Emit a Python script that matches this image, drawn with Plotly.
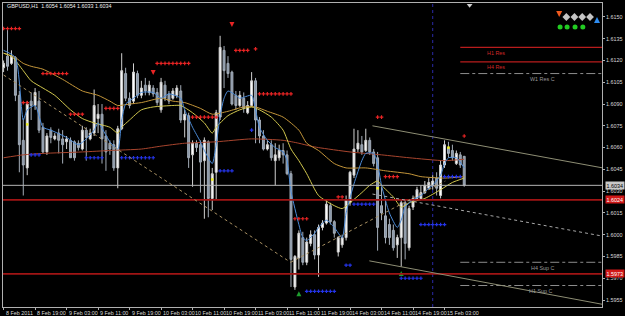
import plotly.graph_objects as go

# ---------------- data ----------------
symbol_title = "GBPUSD,H1  1.6054 1.6054 1.6033 1.6034"

tick_bars = [0, 8, 16, 24, 32, 40, 48, 56, 64, 72, 80, 88, 96, 104, 112]
tick_labels = ["8 Feb 2011", "8 Feb 19:00", "9 Feb 03:00", "9 Feb 11:00", "9 Feb 19:00",
               "10 Feb 03:00", "10 Feb 11:00", "10 Feb 19:00", "11 Feb 03:00", "11 Feb 11:00",
               "11 Feb 19:00", "14 Feb 03:00", "14 Feb 11:00", "14 Feb 19:00", "15 Feb 03:00"]

price_ticks = [1.5955, 1.5970, 1.5985, 1.6000, 1.6015, 1.6030, 1.6045, 1.6060,
               1.6075, 1.6090, 1.6105, 1.6120, 1.6135, 1.6150]

opens = [1.6115, 1.6123, 1.6118, 1.6122, 1.6096, 1.6065, 1.6046, 1.6092, 1.6089, 1.6092,
         1.6074, 1.6057, 1.6072, 1.6066, 1.6070, 1.6066, 1.6064, 1.6065, 1.6064, 1.6063,
         1.6059, 1.6072, 1.6066, 1.6070, 1.6080, 1.6083, 1.6068, 1.6063, 1.6062, 1.6046,
         1.6073, 1.6111, 1.6094, 1.6092, 1.6111, 1.6096, 1.6103, 1.6098, 1.6101, 1.6098,
         1.6086, 1.6103, 1.6097, 1.6094, 1.6096, 1.6099, 1.6079, 1.6082, 1.6055, 1.6063,
         1.6062, 1.6051, 1.6064, 1.6025, 1.6043, 1.6081, 1.6127, 1.6118, 1.6112, 1.6096,
         1.6089, 1.6094, 1.6084, 1.6089, 1.6106, 1.6079, 1.6068, 1.6059, 1.6062, 1.6051,
         1.6053, 1.6058, 1.6055, 1.6042, 1.5964, 1.5984, 1.5998, 1.5981, 1.5994, 1.6000,
         1.5986, 1.6005, 1.6008, 1.6020, 1.6009, 1.5988, 1.5993, 1.5998, 1.6022, 1.6041,
         1.6059, 1.6062, 1.6058, 1.6065, 1.6057, 1.6053, 1.6020, 1.6013, 1.6007, 1.6003,
         1.5993, 1.5998, 1.6022, 1.5991, 1.6019, 1.6025, 1.6025, 1.6029, 1.6032, 1.6034,
         1.6039, 1.6027, 1.6048, 1.6060, 1.6058, 1.6049, 1.6055, 1.6054]
highs = [1.6120, 1.6142, 1.6127, 1.6123, 1.6099, 1.6080, 1.6092, 1.6098, 1.6101, 1.6099,
         1.6077, 1.6070, 1.6074, 1.6070, 1.6073, 1.6072, 1.6068, 1.6067, 1.6065, 1.6065,
         1.6075, 1.6074, 1.6073, 1.6100, 1.6090, 1.6090, 1.6072, 1.6065, 1.6065, 1.6075,
         1.6125, 1.6115, 1.6098, 1.6118, 1.6113, 1.6106, 1.6108, 1.6106, 1.6103, 1.6101,
         1.6108, 1.6106, 1.6099, 1.6101, 1.6103, 1.6103, 1.6086, 1.6084, 1.6065, 1.6065,
         1.6065, 1.6067, 1.6065, 1.6046, 1.6086, 1.6137, 1.6130, 1.6123, 1.6113, 1.6099,
         1.6099, 1.6098, 1.6092, 1.6112, 1.6108, 1.6081, 1.6072, 1.6065, 1.6065, 1.6063,
         1.6062, 1.6063, 1.6058, 1.6044, 1.5986, 1.6003, 1.6002, 1.5998, 1.6003, 1.6003,
         1.6007, 1.6010, 1.6024, 1.6022, 1.6010, 1.5999, 1.6000, 1.6027, 1.6044, 1.6073,
         1.6072, 1.6068, 1.6073, 1.6067, 1.6059, 1.6057, 1.6033, 1.6024, 1.6011, 1.6007,
         1.6000, 1.6024, 1.6024, 1.6020, 1.6027, 1.6033, 1.6034, 1.6037, 1.6039, 1.6041,
         1.6043, 1.6051, 1.6065, 1.6064, 1.6062, 1.6058, 1.6057, 1.6054]
lows = [1.6112, 1.6113, 1.6117, 1.6092, 1.6043, 1.6027, 1.6041, 1.6079, 1.6086, 1.6070,
        1.6056, 1.6055, 1.6063, 1.6065, 1.6056, 1.6049, 1.6059, 1.6053, 1.6051, 1.6058,
        1.6058, 1.6051, 1.6065, 1.6068, 1.6070, 1.6049, 1.6044, 1.6055, 1.6044, 1.6032,
        1.6072, 1.6092, 1.6087, 1.6090, 1.6094, 1.6094, 1.6096, 1.6096, 1.6095, 1.6089,
        1.6084, 1.6092, 1.6090, 1.6093, 1.6094, 1.6077, 1.6067, 1.6046, 1.6033, 1.6057,
        1.6029, 1.6011, 1.6012, 1.6017, 1.6024, 1.6079, 1.6101, 1.6108, 1.6089, 1.6086,
        1.6088, 1.6084, 1.6083, 1.6088, 1.6063, 1.6063, 1.6058, 1.6058, 1.6051, 1.6034,
        1.6051, 1.6049, 1.6041, 1.5964, 1.5962, 1.5976, 1.5979, 1.5979, 1.5992, 1.5983,
        1.5971, 1.6003, 1.6007, 1.6007, 1.5998, 1.5985, 1.5991, 1.5996, 1.6020, 1.6039,
        1.6057, 1.6055, 1.6057, 1.6055, 1.6047, 1.5989, 1.6010, 1.5994, 1.5993, 1.5989,
        1.5984, 1.5978, 1.5983, 1.5989, 1.6017, 1.6024, 1.6024, 1.6028, 1.6031, 1.6031,
        1.6027, 1.6025, 1.6046, 1.6053, 1.6051, 1.6048, 1.6046, 1.6033]
closes = [1.6118, 1.6116, 1.6123, 1.6096, 1.6062, 1.6048, 1.6090, 1.6089, 1.6098, 1.6072,
          1.6057, 1.6068, 1.6067, 1.6068, 1.6065, 1.6062, 1.6066, 1.6053, 1.6053, 1.6060,
          1.6072, 1.6067, 1.6070, 1.6089, 1.6083, 1.6066, 1.6057, 1.6059, 1.6046, 1.6073,
          1.6113, 1.6094, 1.6089, 1.6112, 1.6096, 1.6101, 1.6099, 1.6103, 1.6097, 1.6091,
          1.6105, 1.6094, 1.6092, 1.6099, 1.6101, 1.6079, 1.6083, 1.6053, 1.6063, 1.6060,
          1.6050, 1.6065, 1.6025, 1.6042, 1.6084, 1.6129, 1.6113, 1.6111, 1.6090, 1.6089,
          1.6096, 1.6087, 1.6089, 1.6106, 1.6079, 1.6068, 1.6059, 1.6062, 1.6053, 1.6055,
          1.6058, 1.6055, 1.6042, 1.5983, 1.5985, 1.6001, 1.5981, 1.5995, 1.6000, 1.5986,
          1.6005, 1.6008, 1.6021, 1.6009, 1.6001, 1.5998, 1.5998, 1.6024, 1.6043, 1.6059,
          1.6063, 1.6057, 1.6065, 1.6057, 1.6049, 1.6005, 1.6015, 1.5998, 1.5998, 1.5991,
          1.5998, 1.6022, 1.5994, 1.6018, 1.6025, 1.6031, 1.6029, 1.6034, 1.6036, 1.6037,
          1.6032, 1.6048, 1.6062, 1.6056, 1.6053, 1.6056, 1.6048, 1.6034]

# moving averages (bar index, price)
fast_ma_bars = [0, 3, 5, 6, 8, 10, 12, 16, 19, 21, 23, 24, 27, 29, 30, 31, 33, 35, 38, 40,
                42, 45, 46, 48, 50, 51, 53, 54, 55, 56, 57, 59, 60, 63, 64, 65, 67, 69, 71, 72,
                73, 75, 76, 77, 79, 80, 82, 84, 86, 87, 89, 91, 92, 94, 95, 96, 98, 100, 101, 102,
                104, 106, 108, 109, 111, 112, 113, 115, 117]
fast_ma = [1.6127, 1.6122, 1.6079, 1.6086, 1.6089, 1.6074, 1.6072, 1.6067, 1.6062, 1.6066,
           1.6072, 1.6077, 1.6064, 1.6059, 1.6079, 1.6090, 1.6094, 1.6098, 1.6098, 1.6094,
           1.6097, 1.6094, 1.6086, 1.6074, 1.6064, 1.6058, 1.6049, 1.6062, 1.6082, 1.6094,
           1.6099, 1.6096, 1.6094, 1.6096, 1.6086, 1.6074, 1.6065, 1.6060, 1.6057, 1.6051,
           1.6030, 1.6007, 1.5998, 1.5996, 1.6001, 1.6005, 1.6010, 1.6005, 1.5998, 1.6015,
           1.6035, 1.6051, 1.6056, 1.6056, 1.6049, 1.6034, 1.6015, 1.6005, 1.6010, 1.6019,
           1.6024, 1.6027, 1.6032, 1.6034, 1.6041, 1.6049, 1.6053, 1.6053, 1.6046]

mid_ma_bars = [0, 2, 5, 7, 10, 13, 17, 20, 23, 27, 29, 30, 32, 35, 38, 43, 45, 48, 51, 53,
               54, 57, 60, 63, 65, 68, 71, 73, 75, 77, 80, 84, 86, 88, 91, 93, 95, 96, 99, 101,
               103, 107, 111, 114, 117]
mid_ma = [1.6125, 1.6123, 1.6113, 1.6106, 1.6101, 1.6096, 1.6086, 1.6080, 1.6077, 1.6074,
          1.6070, 1.6074, 1.6079, 1.6086, 1.6088, 1.6089, 1.6089, 1.6084, 1.6077, 1.6070,
          1.6074, 1.6082, 1.6086, 1.6088, 1.6086, 1.6081, 1.6072, 1.6059, 1.6051, 1.6042,
          1.6027, 1.6020, 1.6018, 1.6022, 1.6029, 1.6034, 1.6037, 1.6034, 1.6026, 1.6019,
          1.6022, 1.6025, 1.6031, 1.6036, 1.6039]

slow_ma_bars = [0, 3, 5, 7, 10, 15, 20, 24, 27, 29, 32, 35, 40, 43, 46, 50, 53, 57, 61, 64,
                67, 71, 75, 77, 80, 84, 87, 92, 97, 103, 106, 112, 117]
slow_ma = [1.6125, 1.6122, 1.6118, 1.6116, 1.6114, 1.6107, 1.6099, 1.6096, 1.6092, 1.6089,
           1.6090, 1.6091, 1.6094, 1.6092, 1.6091, 1.6087, 1.6083, 1.6085, 1.6088, 1.6088,
           1.6085, 1.6081, 1.6072, 1.6063, 1.6058, 1.6049, 1.6046, 1.6046, 1.6044, 1.6042,
           1.6040, 1.6039, 1.6040]

long_ma_bars = [0, 5, 10, 20, 27, 35, 40, 46, 54, 63, 71, 75, 78, 80, 88, 96, 103, 112, 117]
long_ma = [1.6053, 1.6055, 1.6056, 1.6057, 1.6058, 1.6059, 1.6061, 1.6063, 1.6064, 1.6066,
           1.6065, 1.6063, 1.6061, 1.6060, 1.6057, 1.6055, 1.6053, 1.6051, 1.6052]

# rows of resistance (red) and support (blue) dots: (first bar, last bar, price)
red_rows = [(0, 4, 1.6142), (10, 16, 1.6111), (39, 47, 1.6118), (17, 20, 1.6083),
            (26, 29, 1.6087), (5, 6, 1.6091), (59, 62, 1.6127), (64, 64, 1.6128),
            (65, 73, 1.6097), (48, 54, 1.6081), (95, 96, 1.6081), (85, 86, 1.6026),
            (97, 100, 1.6040), (74, 77, 1.6011), (117, 117, 1.6068)]
blue_rows = [(7, 9, 1.6055), (21, 25, 1.6053), (30, 38, 1.6053), (63, 63, 1.6072),
             (55, 58, 1.6044), (87, 88, 1.5979), (89, 94, 1.6021), (77, 84, 1.5961),
             (106, 112, 1.6007), (101, 106, 1.5970), (112, 116, 1.6040)]

fractal_up_bars = [38, 58]
fractal_up_prices = [1.6110, 1.6143]
fractal_dn_bars = [75, 101]
fractal_dn_prices = [1.5961, 1.5975]

signal_bars = [6, 53, 95, 113]
signal_prices = [1.6076, 1.6038, 1.6032, 1.6060]

bid_price = 1.6034
red_levels = [1.6024, 1.5973]
sep_bar = 109

level_names = ["H1 Res", "H4 Res", "W1 Res C", "H4 Sup C", "H1 Sup C"]
level_prices = [1.6129, 1.6119, 1.6111, 1.5981, 1.5965]
level_label_bars = [125, 125, 137, 137, 136.5]
level_is_res = [True, True, False, False, False]
level_start = 116

# trend lines: (bar0, price0, bar1, price1)
channel_lines = [(93.7, 1.6075, 152.2, 1.6046), (92.9, 1.5982, 152.2, 1.5952)]
channel_mid = (93.7, 1.6028, 152.2, 1.5999)
dotted_trend = [(0, 1.6110, 72.9, 1.5981), (72.9, 1.5981, 112.2, 1.6037)]

# ---------------- figure ----------------
FONT = "Liberation Sans"
FS = 5.4
bars = list(range(len(opens)))
X0, X1 = -0.15, 152.0
Y0, Y1 = 1.59502, 1.61596

fig = go.Figure()

fig.add_trace(go.Candlestick(
    x=bars, open=opens, high=highs, low=lows, close=closes,
    increasing=dict(fillcolor="#FFFFFF", line=dict(color="#D0D0D0", width=1)),
    decreasing=dict(fillcolor="#8896A8", line=dict(color="#A3ACB7", width=1)),
    whiskerwidth=0, showlegend=False, hoverinfo="skip"))

for bx, vals, col in [(long_ma_bars, long_ma, "#A8452E"),
                      (slow_ma_bars, slow_ma, "#C4963A"),
                      (mid_ma_bars, mid_ma, "#D2C84E"),
                      (fast_ma_bars, fast_ma, "#4D8CD8")]:
    fig.add_trace(go.Scatter(x=bx, y=vals, mode="lines",
                             line=dict(color=col, width=1, shape="spline", smoothing=0.6),
                             showlegend=False, hoverinfo="skip"))


def rows_to_xy(rows):
    xs, ys = [], []
    for a, b, p in rows:
        for k in range(a, b + 1):
            xs.append(k)
            ys.append(p)
    return xs, ys


rx, ry = rows_to_xy(red_rows)
bx_, by_ = rows_to_xy(blue_rows)
fig.add_trace(go.Scatter(x=rx, y=ry, mode="markers",
                         marker=dict(symbol="cross", size=3, color="#E82424"),
                         showlegend=False, hoverinfo="skip"))
fig.add_trace(go.Scatter(x=bx_, y=by_, mode="markers",
                         marker=dict(symbol="cross", size=3, color="#2434E8"),
                         showlegend=False, hoverinfo="skip"))
fig.add_trace(go.Scatter(x=fractal_up_bars, y=fractal_up_prices, mode="markers",
                         marker=dict(symbol="arrow-down", size=5, color="#E82424"),
                         showlegend=False, hoverinfo="skip"))
fig.add_trace(go.Scatter(x=fractal_dn_bars, y=fractal_dn_prices, mode="markers",
                         marker=dict(symbol="arrow-up", size=5, color="#1E9E2E"),
                         showlegend=False, hoverinfo="skip"))
fig.add_trace(go.Scatter(x=signal_bars, y=signal_prices, mode="markers",
                         marker=dict(symbol="square", size=2.5, color="#F0F020"),
                         showlegend=False, hoverinfo="skip"))

shapes = []
# day separator
shapes.append(dict(type="line", xref="x", yref="paper", x0=sep_bar, x1=sep_bar, y0=0, y1=1,
                   line=dict(color="#2A2AA8", width=1, dash="dot"), layer="below"))
# full-width price lines
shapes.append(dict(type="line", xref="paper", yref="y", x0=0, x1=1, y0=bid_price, y1=bid_price,
                   line=dict(color="#B4B4B4", width=1)))
for p in red_levels:
    shapes.append(dict(type="line", xref="paper", yref="y", x0=0, x1=1, y0=p, y1=p,
                       line=dict(color="#A01414", width=1.6)))
# pivot levels
for name, p, res in zip(level_names, level_prices, level_is_res):
    shapes.append(dict(type="line", xref="x", yref="y", x0=level_start, x1=X1, y0=p, y1=p,
                       line=dict(color="#B81C1C", width=1.2) if res else
                       dict(color="#8C8C8C", width=1, dash="dashdot")))
# trend lines
for a, pa, b, pb in channel_lines:
    shapes.append(dict(type="line", xref="x", yref="y", x0=a, y0=pa, x1=b, y1=pb,
                       line=dict(color="#8E8E74", width=1)))
a, pa, b, pb = channel_mid
shapes.append(dict(type="line", xref="x", yref="y", x0=a, y0=pa, x1=b, y1=pb,
                   line=dict(color="#A8A8A8", width=1, dash="dot")))
for a, pa, b, pb in dotted_trend:
    shapes.append(dict(type="line", xref="x", yref="y", x0=a, y0=pa, x1=b, y1=pb,
                       line=dict(color="#A89062", width=1, dash="dot")))

annotations = []
for b, lab in zip(tick_bars, tick_labels):
    annotations.append(dict(x=b, xref="x", y=0, yref="paper", yanchor="top", xanchor="left",
                            yshift=-1, xshift=0, text=lab, showarrow=False,
                            font=dict(family=FONT, size=FS, color="#D8D8D8")))
for name, p, lb, res in zip(level_names, level_prices, level_label_bars, level_is_res):
    annotations.append(dict(x=lb, xref="x", y=p, yref="y", yanchor="top", xanchor="center",
                            yshift=-0.5, text=name, showarrow=False,
                            font=dict(family=FONT, size=FS,
                                      color="#D02828" if res else "#9A9A9A")))
annotations.append(dict(x=0.003, xref="paper", y=0.99, yref="paper", xanchor="left",
                        yanchor="middle", text=symbol_title, showarrow=False,
                        font=dict(family=FONT, size=FS, color="#F0F0F0")))
# price boxes on the axis
for p, bg, fg in [(bid_price, "#C8C8C8", "#000000"), (red_levels[0], "#D01818", "#FFFFFF"),
                  (red_levels[1], "#D01818", "#FFFFFF")]:
    annotations.append(dict(x=1, xref="paper", y=p, yref="y", xanchor="left", yanchor="middle",
                            xshift=3, text=f"{p:.4f}", showarrow=False, bgcolor=bg,
                            borderpad=0.5,
                            font=dict(family=FONT, size=FS, color=fg)))

# indicator status icons (top right) on an overlay axis in screen fractions
icon_x = [0.9285, 0.9405, 0.954, 0.967, 0.980, 0.9917]
icon_sym = ["arrow-down", "diamond", "diamond", "diamond", "diamond", "arrow-up"]
icon_col = ["#F05A1E", "#C4C4C4", "#C4C4C4", "#C4C4C4", "#C4C4C4", "#2E8CF0"]
dot_x = [0.930, 0.9417, 0.955, 0.968]
fig.add_trace(go.Scatter(x=icon_x, y=[0.954] * 6, xaxis="x2", yaxis="y2", mode="markers",
                         marker=dict(symbol=icon_sym, size=6, color=icon_col),
                         showlegend=False, hoverinfo="skip"))
fig.add_trace(go.Scatter(x=dot_x, y=[0.921] * 4, xaxis="x2", yaxis="y2", mode="markers",
                         marker=dict(symbol="circle", size=5, color="#22CC22"),
                         showlegend=False, hoverinfo="skip"))
fig.add_trace(go.Scatter(x=[0.779], y=[0.993], xaxis="x2", yaxis="y2", mode="markers",
                         marker=dict(symbol="triangle-down", size=5, color="#D0D0D0"),
                         showlegend=False, hoverinfo="skip"))

fig.update_layout(
    width=625, height=316,
    margin=dict(l=2, r=22, t=2, b=9),
    paper_bgcolor="#000000", plot_bgcolor="#000000",
    shapes=shapes, annotations=annotations,
    showlegend=False,
    xaxis=dict(range=[X0, X1], showgrid=False, zeroline=False, rangeslider=dict(visible=False),
               tickvals=tick_bars, showticklabels=False, ticks="outside", ticklen=2,
               tickcolor="#B0B0B0", showline=True, mirror=True, linecolor="#B0B0B0",
               linewidth=1),
    yaxis=dict(range=[Y0, Y1], side="right", showgrid=False, zeroline=False,
               tickvals=price_ticks, ticktext=[f"{v:.4f}" for v in price_ticks],
               ticks="outside", ticklen=2, tickcolor="#B0B0B0",
               tickfont=dict(family=FONT, size=FS, color="#D8D8D8"),
               showline=True, mirror=True, linecolor="#B0B0B0", linewidth=1),
    xaxis2=dict(overlaying="x", range=[0, 1], visible=False),
    yaxis2=dict(overlaying="y", range=[0, 1], visible=False),
)

fig.write_html("out.html")
